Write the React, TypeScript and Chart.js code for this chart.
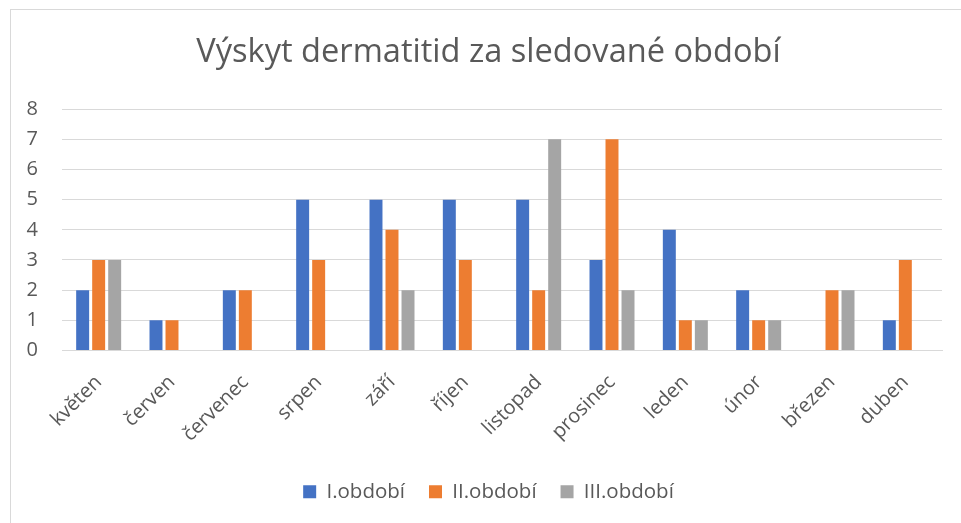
import React, { useEffect, useRef } from "react";
import { Chart, registerables } from "chart.js";

Chart.register(...registerables);

const categories = ["květen", "červen", "červenec", "srpen", "září", "říjen", "listopad", "prosinec", "leden", "únor", "březen", "duben"];
const period1 = [2, 1, 2, 5, 5, 5, 5, 3, 4, 2, 0, 1];
const period2 = [3, 1, 2, 3, 4, 3, 2, 7, 1, 1, 2, 3];
const period3 = [3, 0, 0, 0, 2, 0, 7, 2, 1, 1, 2, 0];
const seriesNames = ["I.období", "II.období", "III.období"];
const yTicks = [0, 1, 2, 3, 4, 5, 6, 7, 8];
const titleText = "Výskyt dermatitid za sledované období";

const FONT = "'Open Sans', 'Noto Sans', sans-serif";
const TEXT = "#595959";

export default function App() {
  const ref = useRef<HTMLCanvasElement | null>(null);
  useEffect(() => {
    if (!ref.current) return;
    const colors = ["#4472C4", "#ED7D31", "#A5A5A5"];
    const chart = new Chart(ref.current, {
      type: "bar",
      data: {
        labels: categories,
        datasets: [period1, period2, period3].map((d, i) => ({
          label: seriesNames[i],
          data: d,
          backgroundColor: colors[i],
          borderWidth: 0,
          barPercentage: 0.81,
          categoryPercentage: 0.655,
          yAxisID: "y",
        })),
      },
      options: {
        responsive: false,
        animation: false,
        layout: { padding: { left: 16, right: 0, top: 0, bottom: 11 } },
        plugins: {
          title: {
            display: true,
            text: titleText,
            color: TEXT,
            font: { family: FONT, size: 32.6, weight: "normal" },
            padding: { top: 33, bottom: 37 },
          },
          legend: {
            position: "bottom",
            labels: {
              color: TEXT,
              font: { family: FONT, size: 20.5 },
              boxWidth: 13,
              boxHeight: 13,
              padding: 24,
            },
          },
          tooltip: { enabled: false },
        },
        scales: {
          x: {
            grid: { display: false },
            border: { display: true, color: "#D9D9D9", width: 1 },
            ticks: {
              color: TEXT,
              font: { family: FONT, size: 20 },
              minRotation: 45,
              maxRotation: 45,
              padding: 12,
            },
            afterFit: (s: any) => {
              s.height = 107;
            },
          },
          y: {
            min: 0,
            max: 8,
            afterBuildTicks: (s: any) => {
              s.ticks = yTicks.map((v) => ({ value: v }));
            },
            grid: { color: "#D9D9D9", lineWidth: 1, drawTicks: false },
            border: { display: false },
            ticks: {
              color: TEXT,
              font: { family: FONT, size: 20 },
              padding: 24,
            },
            afterFit: (s: any) => {
              s.width = 46;
            },
          },
          yRight: {
            position: "right",
            min: 0,
            max: 8,
            grid: { display: false, drawTicks: false },
            border: { display: false },
            ticks: { display: false },
            afterFit: (s: any) => {
              s.width = 19;
            },
          },
        },
      },
    });
    return () => chart.destroy();
  }, []);
  return (
    <div style={{ position: "fixed", left: 0, top: 0, width: 961, height: 523, overflow: "hidden", background: "#fff" }}>
      <div style={{ position: "absolute", left: 10, top: 9, width: 1000, height: 600, border: "1px solid #D9D9D9" }} />
      <canvas ref={ref} width={961} height={523} style={{ position: "absolute", left: 0, top: 0 }} />
    </div>
  );
}
